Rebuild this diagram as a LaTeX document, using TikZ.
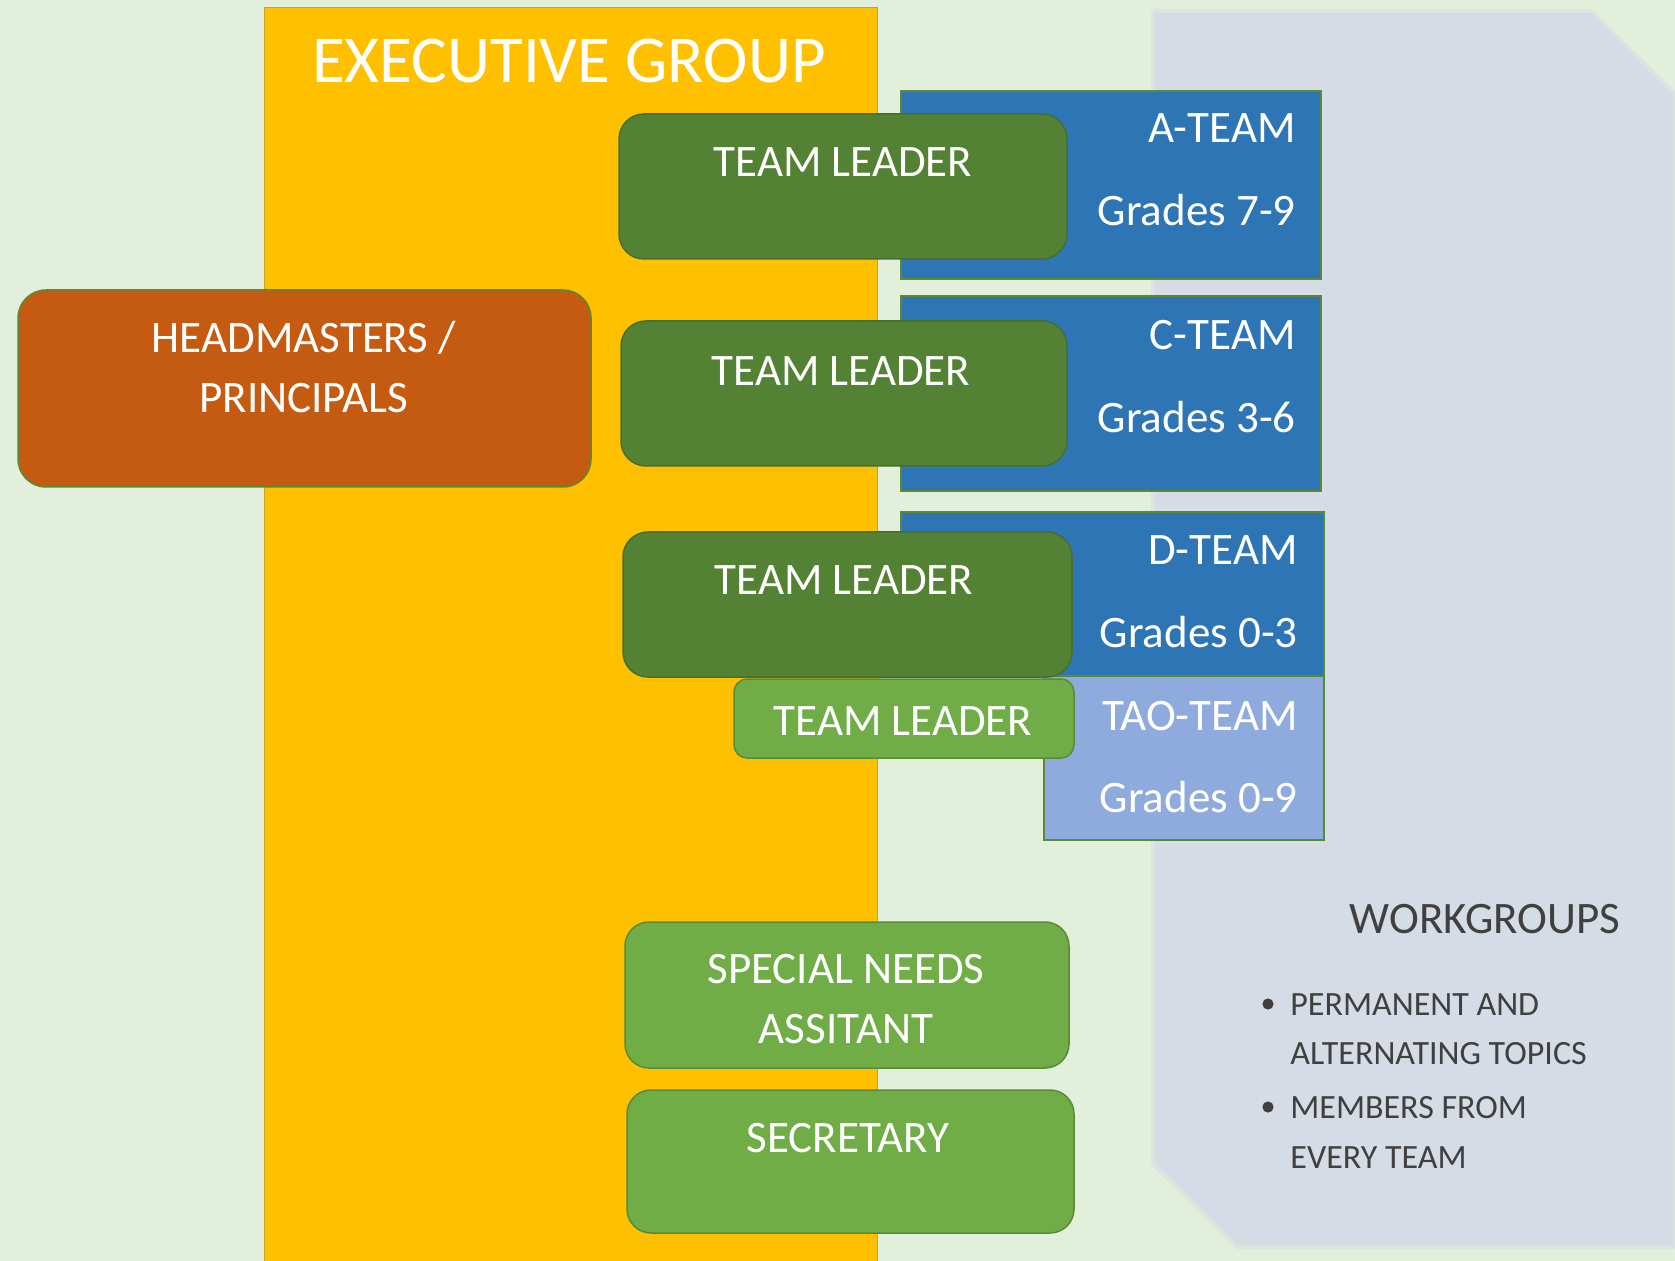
\documentclass[tikz,border=0pt]{standalone}
\usepackage{fontspec}
\setmainfont{Carlito}
\definecolor{bgc}{HTML}{E2EFDA}
\definecolor{yel}{HTML}{FFC000}
\definecolor{yelline}{HTML}{C9A227}
\definecolor{orng}{HTML}{C55A11}
\definecolor{dgreen}{HTML}{548235}
\definecolor{lgreen}{HTML}{70AD47}
\definecolor{edgegreen}{HTML}{5A8A38}
\definecolor{blu}{HTML}{2E75B6}
\definecolor{lblu}{HTML}{8FAADC}
\definecolor{wgc}{HTML}{D6DCE5}
\definecolor{dgray}{HTML}{404040}
\tikzset{
  boxline/.style={draw=edgegreen, line width=0.75pt},
  wtext/.style={text=white, font=\fontsize{22.5}{27}\selectfont, inner sep=0pt, anchor=base},
  wtextr/.style={wtext, anchor=base east},
  bigtext/.style={text=white, font=\fontsize{33.5}{40}\selectfont, inner sep=0pt, anchor=base},
  wgtitle/.style={text=dgray, font=\fontsize{22.5}{27}\selectfont, inner sep=0pt, anchor=base},
  bultext/.style={text=dgray, font=\fontsize{17}{20}\selectfont, inner sep=0pt, anchor=base west},
}
\begin{document}
\begin{tikzpicture}[x=0.5pt,y=-0.5pt]
\useasboundingbox (0,0) rectangle (1675,1261);
\fill[bgc] (0,0) rectangle (1675,1261);
% workgroups panel
\draw[wgc!55!bgc, line width=4pt, line join=round] (1155,13) -- (1590,13) -- (1673,95) -- (1673,1245) -- (1238,1245) -- (1155,1163) -- cycle;
\fill[wgc] (1155,13) -- (1590,13) -- (1673,95) -- (1673,1245) -- (1238,1245) -- (1155,1163) -- cycle;
% executive group column
\fill[yel, draw=yelline, line width=0.5pt] (264,8) rectangle (877,1270);
% headmasters
\fill[orng, boxline] [rounded corners=14pt] (18,290) rectangle (591,487);
% team boxes
\fill[blu, boxline] (901,91) rectangle (1321,279);
\fill[blu, boxline] (901,296) rectangle (1321,491);
\fill[blu, boxline] (901,512) rectangle (1324,676);
\fill[lblu, boxline] (1044,676) rectangle (1324,840);
% team leaders
\fill[dgreen, draw=dgreen!85!black, line width=0.75pt, rounded corners=12.5pt] (619,114) rectangle (1067,259);
\fill[dgreen, draw=dgreen!85!black, line width=0.75pt, rounded corners=12.5pt] (621,321) rectangle (1067,466);
\fill[dgreen, draw=dgreen!85!black, line width=0.75pt, rounded corners=12.5pt] (623,532) rectangle (1072,677);
\fill[lgreen, boxline, rounded corners=6.5pt] (734,679) rectangle (1074,758);
\fill[lgreen, boxline, rounded corners=12pt] (625,922) rectangle (1069,1068);
\fill[lgreen, boxline, rounded corners=12pt] (627,1090) rectangle (1074,1233);
% texts
\node[bigtext] (exec) at (569,83) {EXECUTIVE GROUP};
\node[wtext] (hm1) at (304,353) {HEADMASTERS /};
\node[wtext] (hm2) at (304,413) {PRINCIPALS};
\node[wtext] (tl1) at (843,177) {TEAM LEADER};
\node[wtext] (tl2) at (841,386) {TEAM LEADER};
\node[wtext] (tl3) at (844,595) {TEAM LEADER};
\node[wtext] (tl4) at (903,735) {TEAM LEADER};
\node[wtextr] (ateam) at (1296,143) {A-TEAM};
\node[wtextr] (agr) at (1296,226) {Grades 7-9};
\node[wtextr] (cteam) at (1296,350) {C-TEAM};
\node[wtextr] (cgr) at (1296,433) {Grades 3-6};
\node[wtextr] (dteam) at (1298,565) {D-TEAM};
\node[wtextr] (dgr) at (1298,647) {Grades 0-3};
\node[wtextr] (tao) at (1298,730) {TAO-TEAM};
\node[wtextr] (taogr) at (1298,812) {Grades 0-9};
\node[wtext] (sn1) at (846,983) {SPECIAL NEEDS};
\node[wtext] (sn2) at (846,1043) {ASSITANT};
\node[wtext] (sec) at (848,1152) {SECRETARY};
\node[wgtitle] (wg) at (1485,933) {WORKGROUPS};
\fill[dgray] (1268,1004) circle (2.8pt);
\fill[dgray] (1268,1107) circle (2.8pt);
\node[bultext] (b1a) at (1290,1015) {PERMANENT AND};
\node[bultext] (b1b) at (1290,1064) {ALTERNATING TOPICS};
\node[bultext] (b2a) at (1290,1118) {MEMBERS FROM};
\node[bultext] (b2b) at (1290,1168) {EVERY TEAM};
\end{tikzpicture}
\end{document}
